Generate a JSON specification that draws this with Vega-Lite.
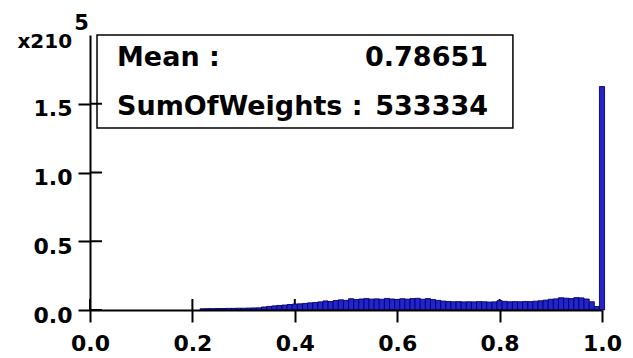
{
  "$schema": "https://vega.github.io/schema/vega-lite/v6.json",
  "width": 512,
  "height": 275,
  "autosize": "none",
  "padding": {"left": 90, "top": 35, "right": 31, "bottom": 48},
  "background": "white",
  "config": {"view": {"stroke": null}, "font": "DejaVu Sans"},
  "layer": [
    {
      "data": {"values": [{"t": 0}, {"t": 0.2}, {"t": 0.4}, {"t": 0.6}, {"t": 0.8}, {"t": 1.0}]},
      "mark": {"type": "rule", "color": "black", "strokeWidth": 2},
      "encoding": {
        "x": {"field": "t", "type": "quantitative"},
        "y": {"datum": 0},
        "y2": {"datum": 8000}
      }
    },
    {
      "data": {"values": [
        {"lo":0.215,"hi":0.225,"n":900},{"lo":0.225,"hi":0.235,"n":1000},{"lo":0.235,"hi":0.245,"n":1000},
        {"lo":0.245,"hi":0.255,"n":1100},{"lo":0.255,"hi":0.265,"n":1100},{"lo":0.265,"hi":0.275,"n":1200},
        {"lo":0.275,"hi":0.285,"n":1200},{"lo":0.285,"hi":0.295,"n":1300},{"lo":0.295,"hi":0.305,"n":1300},
        {"lo":0.305,"hi":0.315,"n":1400},{"lo":0.315,"hi":0.325,"n":1500},{"lo":0.325,"hi":0.335,"n":1600},
        {"lo":0.335,"hi":0.345,"n":2200},{"lo":0.345,"hi":0.355,"n":2600},{"lo":0.355,"hi":0.365,"n":3000},
        {"lo":0.365,"hi":0.375,"n":3300},{"lo":0.375,"hi":0.385,"n":3600},{"lo":0.385,"hi":0.395,"n":4000},
        {"lo":0.395,"hi":0.405,"n":4300},{"lo":0.405,"hi":0.415,"n":4500},{"lo":0.415,"hi":0.425,"n":4800},
        {"lo":0.425,"hi":0.435,"n":5200},{"lo":0.435,"hi":0.445,"n":5500},{"lo":0.445,"hi":0.455,"n":5900},
        {"lo":0.455,"hi":0.465,"n":6600},{"lo":0.465,"hi":0.475,"n":6200},{"lo":0.475,"hi":0.485,"n":6900},
        {"lo":0.485,"hi":0.495,"n":7400},{"lo":0.495,"hi":0.505,"n":7000},{"lo":0.505,"hi":0.515,"n":8200},
        {"lo":0.515,"hi":0.525,"n":7600},{"lo":0.525,"hi":0.535,"n":8000},{"lo":0.535,"hi":0.545,"n":8300},
        {"lo":0.545,"hi":0.555,"n":7900},{"lo":0.555,"hi":0.565,"n":8100},{"lo":0.565,"hi":0.575,"n":7800},
        {"lo":0.575,"hi":0.585,"n":8400},{"lo":0.585,"hi":0.595,"n":8000},{"lo":0.595,"hi":0.605,"n":7700},
        {"lo":0.605,"hi":0.615,"n":8200},{"lo":0.615,"hi":0.625,"n":7900},{"lo":0.625,"hi":0.635,"n":8300},
        {"lo":0.635,"hi":0.645,"n":8500},{"lo":0.645,"hi":0.655,"n":7800},{"lo":0.655,"hi":0.665,"n":8300},
        {"lo":0.665,"hi":0.675,"n":7600},{"lo":0.675,"hi":0.685,"n":7000},{"lo":0.685,"hi":0.695,"n":6500},
        {"lo":0.695,"hi":0.705,"n":6200},{"lo":0.705,"hi":0.715,"n":6000},{"lo":0.715,"hi":0.725,"n":6100},
        {"lo":0.725,"hi":0.735,"n":5900},{"lo":0.735,"hi":0.745,"n":6000},{"lo":0.745,"hi":0.755,"n":5900},
        {"lo":0.755,"hi":0.765,"n":6100},{"lo":0.765,"hi":0.775,"n":6000},{"lo":0.775,"hi":0.785,"n":5800},
        {"lo":0.785,"hi":0.795,"n":5900},{"lo":0.795,"hi":0.805,"n":6800},{"lo":0.805,"hi":0.815,"n":6300},
        {"lo":0.815,"hi":0.825,"n":6000},{"lo":0.825,"hi":0.835,"n":6100},{"lo":0.835,"hi":0.845,"n":6000},
        {"lo":0.845,"hi":0.855,"n":6200},{"lo":0.855,"hi":0.865,"n":6100},{"lo":0.865,"hi":0.875,"n":6400},
        {"lo":0.875,"hi":0.885,"n":6700},{"lo":0.885,"hi":0.895,"n":7200},{"lo":0.895,"hi":0.905,"n":7800},
        {"lo":0.905,"hi":0.915,"n":8100},{"lo":0.915,"hi":0.925,"n":8900},{"lo":0.925,"hi":0.935,"n":8600},
        {"lo":0.935,"hi":0.945,"n":8300},{"lo":0.945,"hi":0.955,"n":9000},{"lo":0.955,"hi":0.965,"n":8800},
        {"lo":0.965,"hi":0.975,"n":8000},{"lo":0.975,"hi":0.985,"n":6000},{"lo":0.985,"hi":0.995,"n":2500},
        {"lo":0.995,"hi":1.005,"n":162500}
      ]},
      "mark": {"type": "rect", "fill": "#2424c8", "stroke": "#000070", "strokeWidth": 0.9},
      "encoding": {
        "x": {
          "field": "lo", "type": "quantitative",
          "scale": {"domain": [0, 1], "nice": false, "zero": false},
          "axis": {
            "values": [0, 0.2, 0.4, 0.6, 0.8, 1.0], "format": ".1f", "title": null,
            "grid": false, "domainColor": "black", "domainWidth": 2,
            "tickColor": "black", "tickWidth": 2, "tickSize": 12,
            "labelFont": "DejaVu Sans", "labelFontWeight": "bold", "labelFontSize": 22,
            "labelColor": "black", "labelPadding": 11, "labelFlush": false, "zindex": 1
          }
        },
        "x2": {"field": "hi"},
        "y": {
          "field": "n", "type": "quantitative",
          "scale": {"domain": [0, 200000], "nice": false},
          "axis": {
            "values": [0, 50000, 100000, 150000], "title": null,
            "labelExpr": "format(datum.value / 100000, '.1f')",
            "grid": false, "domainColor": "black", "domainWidth": 2,
            "tickColor": "black", "tickWidth": 2, "tickSize": 12,
            "labelFont": "DejaVu Sans", "labelFontWeight": "bold", "labelFontSize": 22,
            "labelColor": "black", "labelPadding": 6, "labelOffset": 5, "labelFlush": false, "zindex": 1
          }
        },
        "y2": {"datum": 0}
      }
    },
    {
      "data": {"values": [{}]},
      "mark": {"type": "rect", "fill": "white", "stroke": "black", "strokeWidth": 1.5},
      "encoding": {
        "x": {"datum": 0.0137},
        "x2": {"datum": 0.826},
        "y": {"datum": 200000},
        "y2": {"datum": 132400}
      }
    },
    {
      "data": {"values": [{}]},
      "mark": {"type": "text", "font": "DejaVu Sans", "fontWeight": "bold", "fontSize": 27, "align": "left", "baseline": "alphabetic", "color": "black"},
      "encoding": {"x": {"datum": 0.0527}, "y": {"datum": 177500}, "text": {"value": "Mean :"}}
    },
    {
      "data": {"values": [{}]},
      "mark": {"type": "text", "font": "DejaVu Sans", "fontWeight": "bold", "fontSize": 27, "align": "right", "baseline": "alphabetic", "color": "black"},
      "encoding": {"x": {"datum": 0.7774}, "y": {"datum": 177500}, "text": {"value": "0.78651"}}
    },
    {
      "data": {"values": [{}]},
      "mark": {"type": "text", "font": "DejaVu Sans", "fontWeight": "bold", "fontSize": 27, "align": "left", "baseline": "alphabetic", "color": "black"},
      "encoding": {"x": {"datum": 0.0527}, "y": {"datum": 142000}, "text": {"value": "SumOfWeights :"}}
    },
    {
      "data": {"values": [{}]},
      "mark": {"type": "text", "font": "DejaVu Sans", "fontWeight": "bold", "fontSize": 27, "align": "right", "baseline": "alphabetic", "color": "black"},
      "encoding": {"x": {"datum": 0.7774}, "y": {"datum": 142000}, "text": {"value": "533334"}}
    },
    {
      "data": {"values": [{}]},
      "mark": {"type": "text", "font": "DejaVu Sans", "fontWeight": "bold", "fontSize": 20, "align": "right", "baseline": "alphabetic", "color": "black"},
      "encoding": {"x": {"datum": -0.035}, "y": {"datum": 190500}, "text": {"value": "x210"}}
    },
    {
      "data": {"values": [{}]},
      "mark": {"type": "text", "font": "DejaVu Sans", "fontWeight": "bold", "fontSize": 21, "align": "left", "baseline": "alphabetic", "color": "black"},
      "encoding": {"x": {"datum": -0.031}, "y": {"datum": 203600}, "text": {"value": "5"}}
    },
    {
      "data": {"values": [{"v": 0}, {"v": 50000}, {"v": 100000}, {"v": 150000}]},
      "mark": {"type": "rule", "color": "black", "strokeWidth": 2},
      "encoding": {
        "y": {"field": "v", "type": "quantitative"},
        "x": {"datum": 0},
        "x2": {"datum": 0.0234}
      }
    }
  ]
}
